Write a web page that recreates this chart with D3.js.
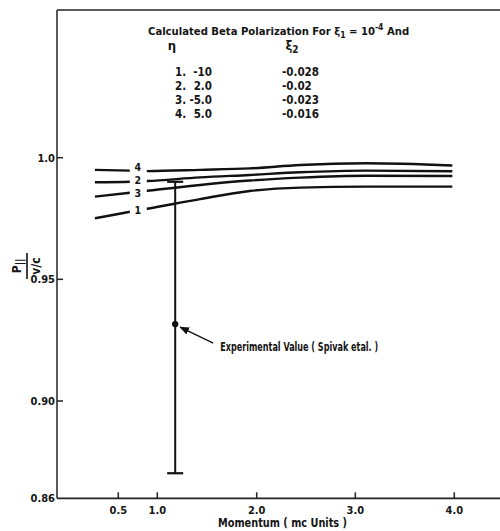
<!DOCTYPE html>
<html><head><meta charset="utf-8">
<script src="https://cdn.jsdelivr.net/npm/d3@7"></script>
<style>
html,body{margin:0;padding:0;background:#fff;}
svg{display:block;}
text{font-family:"DejaVu Sans Condensed","Liberation Sans Narrow",sans-serif;font-weight:bold;fill:#151515;}
</style></head>
<body>
<script>
// ---- data ----
const momentum = [0.20, 0.65, 0.87, 1.43, 1.93, 2.44, 3.11, 3.98];
const curve1 = [0.9751, 0.9778, 0.9790, 0.9830, 0.9863, 0.9877, 0.9881, 0.9881];
const curve2 = [0.9899, 0.9901, 0.9904, 0.9919, 0.9929, 0.9940, 0.9947, 0.9944];
const curve3 = [0.9840, 0.9856, 0.9864, 0.9888, 0.9906, 0.9918, 0.9926, 0.9925];
const curve4 = [0.9950, 0.9947, 0.9945, 0.9950, 0.9956, 0.9970, 0.9977, 0.9968];
const curveNames = ["1", "2", "3", "4"];
const etaValues = ["-10", "2.0", "-5.0", "5.0"];
const xi2Values = ["-0.028", "-0.02", "-0.023", "-0.016"];
const expMomentum = 1.18;
const expValue = 0.9316;
const expLow = 0.8703;
const expHigh = 0.9901;
const xTicks = [0.5, 1.0, 2.0, 3.0, 4.0];
const xTickLabels = ["0.5", "1.0", "2.0", "3.0", "4.0"];
const yTicks = [0.86, 0.90, 0.95, 1.0];
const yTickLabels = ["0.86", "0.90", "0.95", "1.0"];

const W = 500, H = 531;
const svg = d3.select("body").append("svg").attr("width", W).attr("height", H);

// nonuniform original axis (0.5 tick drawn off-scale)
const x = d3.scaleLinear().domain([0.5, 1, 2, 3, 4]).range([118.3, 157.3, 256.7, 355.3, 454.3]);
const y = d3.scaleLinear().domain([0.86, 1.0]).range([498.3, 157.7]);

const axL = 57, axTop = 10, axR = 500, axB = y(0.86);

// frame
svg.append("line").attr("x1", axL).attr("x2", axR).attr("y1", axTop).attr("y2", axTop)
  .attr("stroke", "#222").attr("stroke-width", 1.3);
svg.append("line").attr("x1", axL).attr("x2", axL).attr("y1", axTop).attr("y2", axB)
  .attr("stroke", "#222").attr("stroke-width", 1.5);
svg.append("line").attr("x1", axL).attr("x2", axR).attr("y1", axB).attr("y2", axB)
  .attr("stroke", "#222").attr("stroke-width", 1.8);

// x ticks (inward)
const xg = svg.append("g");
xTicks.forEach((t, i) => {
  xg.append("line").attr("x1", x(t)).attr("x2", x(t)).attr("y1", axB).attr("y2", axB - 6)
    .attr("stroke", "#222").attr("stroke-width", 1.5);
  xg.append("text").attr("x", x(t)).attr("y", axB + 16).attr("text-anchor", "middle")
    .attr("font-size", 11).text(xTickLabels[i]);
});
svg.append("text").attr("x", 218).attr("y", 527)
  .attr("font-size", 11.5).attr("textLength", 129).attr("lengthAdjust", "spacingAndGlyphs")
  .text("Momentum ( mc Units )");

// y ticks (inward)
const yg = svg.append("g");
yTicks.forEach((t, i) => {
  if (t > 0.86) yg.append("line").attr("x1", axL).attr("x2", axL + 6).attr("y1", y(t)).attr("y2", y(t))
    .attr("stroke", "#222").attr("stroke-width", 1.5);
  yg.append("text").attr("x", axL - 2).attr("y", y(t) + 4).attr("text-anchor", "end")
    .attr("font-size", 11).text(yTickLabels[i]);
});

// y axis label: fraction P|| / (v/c), rotated
const yl = svg.append("g").attr("transform", "translate(27,266) rotate(-90)");
const pt = yl.append("text").attr("x", 0).attr("y", -6).attr("text-anchor", "middle").attr("font-size", 12);
pt.append("tspan").text("P");
pt.append("tspan").attr("dy", 2).attr("font-size", 10).text("||");
yl.append("line").attr("x1", -13).attr("x2", 13).attr("y1", 0).attr("y2", 0).attr("stroke", "#111").attr("stroke-width", 1.6);
yl.append("text").attr("x", 0).attr("y", 13).attr("text-anchor", "middle").attr("font-size", 12)
  .text("v/c");

// curves
const curves = [curve1, curve2, curve3, curve4];
const line = d3.line().x(d => x(d[0])).y(d => y(d[1])).curve(d3.curveMonotoneX);
curves.forEach(c => {
  svg.append("path").datum(momentum.map((m, i) => [m, c[i]]))
    .attr("d", line).attr("fill", "none").attr("stroke", "#111").attr("stroke-width", 2.4);
});
// curve labels with gaps
const labelX = 0.75;
const labelShift = [0, -1, 1.5, -4];
curves.forEach((c, k) => {
  const interp = d3.scaleLinear().domain(momentum).range(c);
  const ly = y(interp(labelX));
  svg.append("rect").attr("x", x(labelX) - 8).attr("y", ly - 3).attr("width", 17).attr("height", 6).attr("fill", "#fff");
});
curves.forEach((c, k) => {
  const interp = d3.scaleLinear().domain(momentum).range(c);
  const ly = y(interp(labelX));
  svg.append("text").attr("x", x(labelX)).attr("y", ly + 4 + labelShift[k]).attr("text-anchor", "middle")
    .attr("font-size", 10.5).text(curveNames[k]);
});

// experimental value with error bar
const ex = x(expMomentum);
svg.append("line").attr("x1", ex).attr("x2", ex).attr("y1", y(expHigh)).attr("y2", y(expLow))
  .attr("stroke", "#111").attr("stroke-width", 2);
[expHigh, expLow].forEach(v => {
  svg.append("line").attr("x1", ex - 8).attr("x2", ex + 8).attr("y1", y(v)).attr("y2", y(v))
    .attr("stroke", "#111").attr("stroke-width", 2.2);
});
svg.append("circle").attr("cx", ex).attr("cy", y(expValue)).attr("r", 3.2).attr("fill", "#111");

svg.append("defs").append("marker").attr("id", "ah").attr("viewBox", "0 0 10 10")
  .attr("refX", 9).attr("refY", 5).attr("markerWidth", 7).attr("markerHeight", 7).attr("orient", "auto")
  .append("path").attr("d", "M0,1 L10,5 L0,9 Z").attr("fill", "#111");
const py = y(expValue);
svg.append("line").attr("x1", ex + 38).attr("y1", py + 19).attr("x2", ex + 5).attr("y2", py + 3)
  .attr("stroke", "#111").attr("stroke-width", 1.4).attr("marker-end", "url(#ah)");
svg.append("text").attr("x", ex + 45).attr("y", py + 27).attr("font-size", 12)
  .attr("textLength", 158).attr("lengthAdjust", "spacingAndGlyphs")
  .text("Experimental Value ( Spivak etal. )");

// title / legend table
const tt = svg.append("text").attr("x", 148).attr("y", 35).attr("font-size", 11.2);
tt.append("tspan").text("Calculated Beta Polarization For  ξ");
tt.append("tspan").attr("dy", 3).attr("font-size", 8.5).text("1");
tt.append("tspan").attr("dy", -3).text(" = 10");
tt.append("tspan").attr("dy", -5).attr("font-size", 8.5).text("-4");
tt.append("tspan").attr("dy", 5).text("  And");

svg.append("text").attr("x", 172).attr("y", 50).attr("font-size", 13).attr("text-anchor", "middle").text("η");
const x2 = svg.append("text").attr("x", 292).attr("y", 50).attr("font-size", 13).attr("text-anchor", "middle");
x2.append("tspan").text("ξ");
x2.append("tspan").attr("dy", 3).attr("font-size", 10).text("2");

curveNames.forEach((n, i) => {
  const by = 76 + i * 14;
  svg.append("text").attr("x", 175).attr("y", by).attr("font-size", 11.5).text(n + ".");
  svg.append("text").attr("x", 212).attr("y", by).attr("font-size", 11.5).attr("text-anchor", "end").text(etaValues[i]);
  svg.append("text").attr("x", 282).attr("y", by).attr("font-size", 11.5).text(xi2Values[i]);
});
</script>
</body></html>
